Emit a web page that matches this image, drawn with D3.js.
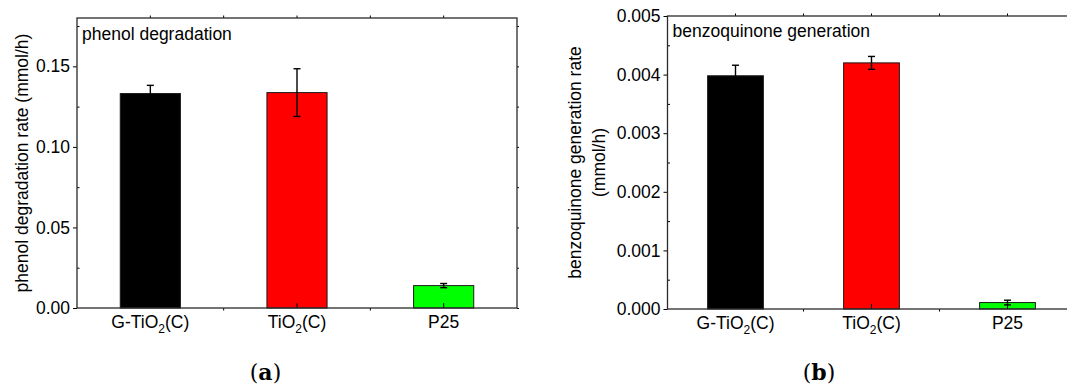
<!DOCTYPE html>
<html><head><meta charset="utf-8">
<script src="https://cdn.jsdelivr.net/npm/d3@7"></script>
<style>
body{margin:0;background:#fff}
svg{display:block}
text{font-family:"Liberation Sans",Arial,sans-serif;fill:#000}
</style>
</head><body>
<svg id="c" width="1067" height="387"></svg>
<script>
// ---- data ----
const categories = ["G-TiO2(C)", "TiO2(C)", "P25"];
const barColors = ["#000000", "#ff0000", "#00ff00"];

const phenolRates  = [0.1331, 0.1337, 0.0139];
const phenolErrors = [0.0051, 0.0148, 0.0013];
const phenolTicks  = [0, 0.05, 0.10, 0.15];
const phenolMinor  = [0.025, 0.075, 0.125, 0.175];

const bqRates  = [0.00398, 0.00420, 0.00011];
const bqErrors = [0.00018, 0.00011, 0.00004];
const bqTicks  = [0, 0.001, 0.002, 0.003, 0.004, 0.005];
const bqMinor  = [0.0005, 0.0015, 0.0025, 0.0035, 0.0045];

const svg = d3.select("#c");
const FS = 17.5;

function drawPanel(p) {
  const g = svg.append("g");
  const x = d3.scaleBand().domain(categories).range([p.left, p.right]).paddingInner(0).paddingOuter(0);
  const y = d3.scaleLinear().domain(p.domain).range([p.bottom, p.top]);
  const bw = x.bandwidth() * 0.41;

  // bars
  g.selectAll("rect.bar").data(categories).join("rect")
    .attr("class", "bar")
    .attr("x", d => x(d) + x.bandwidth() / 2 - bw / 2)
    .attr("y", (d, i) => y(p.values[i]))
    .attr("width", bw)
    .attr("height", (d, i) => y(0) - y(p.values[i]))
    .attr("fill", (d, i) => barColors[i])
    .attr("stroke", "#1a1a1a").attr("stroke-width", 1);

  // error bars
  const eb = g.selectAll("g.err").data(categories).join("g").attr("class", "err")
    .attr("stroke", "#000").attr("stroke-width", 1.4);
  eb.append("line")
    .attr("x1", d => x(d) + x.bandwidth() / 2).attr("x2", d => x(d) + x.bandwidth() / 2)
    .attr("y1", (d, i) => y(p.values[i] + p.errors[i]))
    .attr("y2", (d, i) => y(p.values[i] - p.errors[i]));
  [1, -1].forEach(s => {
    eb.append("line")
      .attr("x1", d => x(d) + x.bandwidth() / 2 - 3.5).attr("x2", d => x(d) + x.bandwidth() / 2 + 3.5)
      .attr("y1", (d, i) => y(p.values[i] + s * p.errors[i]))
      .attr("y2", (d, i) => y(p.values[i] + s * p.errors[i]));
  });

  // left axis (major outward, minor inward)
  const la = g.append("g").attr("transform", `translate(${p.left},0)`)
    .call(d3.axisLeft(y).tickValues(p.ticks).tickFormat(d3.format(p.fmt)).tickSize(4).tickSizeOuter(0).tickPadding(3));
  la.select(".domain").remove();
  la.selectAll("text").attr("font-size", FS).attr("font-family", "Liberation Sans, Arial, sans-serif");
  const lm = g.append("g").attr("transform", `translate(${p.left},0)`)
    .call(d3.axisLeft(y).tickValues(p.minor).tickFormat("").tickSize(-2.5).tickSizeOuter(0));
  lm.select(".domain").remove();

  // right axis mirror
  const ra = g.append("g").attr("transform", `translate(${p.right},0)`)
    .call(d3.axisRight(y).tickValues(p.ticks.concat(p.minor)).tickFormat("").tickSize(2).tickSizeOuter(0));
  ra.select(".domain").remove();

  // bottom axis: major at categories inward, minor at boundaries outward
  const ba = g.append("g").attr("transform", `translate(0,${p.bottom})`)
    .call(d3.axisBottom(x).tickSize(-5).tickSizeOuter(0).tickFormat(""));
  ba.select(".domain").remove();
  const bounds = categories.slice(1).map(c => x(c));
  g.selectAll("line.bmin").data(bounds).join("line").attr("class", "bmin")
    .attr("x1", d => d).attr("x2", d => d).attr("y1", p.bottom).attr("y2", p.bottom + 2.5)
    .attr("stroke", "#000");
  g.selectAll("line.tmin").data(bounds.concat(categories.map(c => x(c) + x.bandwidth() / 2))).join("line").attr("class", "tmin")
    .attr("x1", d => d).attr("x2", d => d).attr("y1", p.top).attr("y2", p.top - 2.5)
    .attr("stroke", "#000");

  // category labels with subscript
  categories.forEach(c => {
    const t = g.append("text").attr("x", x(c) + x.bandwidth() / 2).attr("y", p.bottom + 20)
      .attr("text-anchor", "middle").attr("font-size", FS);
    const m = c.match(/^(.*O)2(.*)$/);
    if (m) {
      t.append("tspan").text(m[1]);
      t.append("tspan").attr("font-size", 12).attr("dy", 5).text("2");
      t.append("tspan").attr("dy", -5).text(m[2]);
    } else t.text(c);
  });

  // frame
  g.append("rect").attr("x", p.left).attr("y", p.top)
    .attr("width", p.right - p.left).attr("height", p.bottom - p.top)
    .attr("fill", "none").attr("stroke", "#2a2a2a").attr("stroke-width", 1.3);

  // inner label
  g.append("text").attr("x", p.left + 5).attr("y", p.labelY).attr("font-size", FS).text(p.label);

  // y title
  p.titleLines.forEach((line, i) => {
    g.append("text").attr("transform", `translate(${p.titleX[i]},${(p.top + p.bottom) / 2}) rotate(-90)`)
      .attr("text-anchor", "middle").attr("font-size", FS).text(line);
  });

  // panel letter
  const pl = g.append("text").attr("x", p.letterX).attr("y", 380).attr("text-anchor", "middle")
    .attr("font-size", 22).style("font-family", "DejaVu Serif, serif");
  pl.append("tspan").text("(");
  pl.append("tspan").attr("font-weight", "bold").text(p.letter);
  pl.append("tspan").text(")");
}

drawPanel({
  left: 77, right: 517, top: 18, bottom: 308, domain: [0, 0.18],
  values: phenolRates, errors: phenolErrors, ticks: phenolTicks, minor: phenolMinor, fmt: ".2f",
  label: "phenol degradation", labelY: 39.5,
  titleLines: ["phenol degradation rate (mmol/h)"], titleX: [27.5],
  letter: "a", letterX: 265.5
});

drawPanel({
  left: 667.5, right: 1075.5, top: 16, bottom: 309, domain: [0, 0.005],
  values: bqRates, errors: bqErrors, ticks: bqTicks, minor: bqMinor, fmt: ".3f",
  label: "benzoquinone generation", labelY: 37,
  titleLines: ["benzoquinone generation rate", "(mmol/h)"], titleX: [581, 605],
  letter: "b", letterX: 819
});
</script>
</body></html>
